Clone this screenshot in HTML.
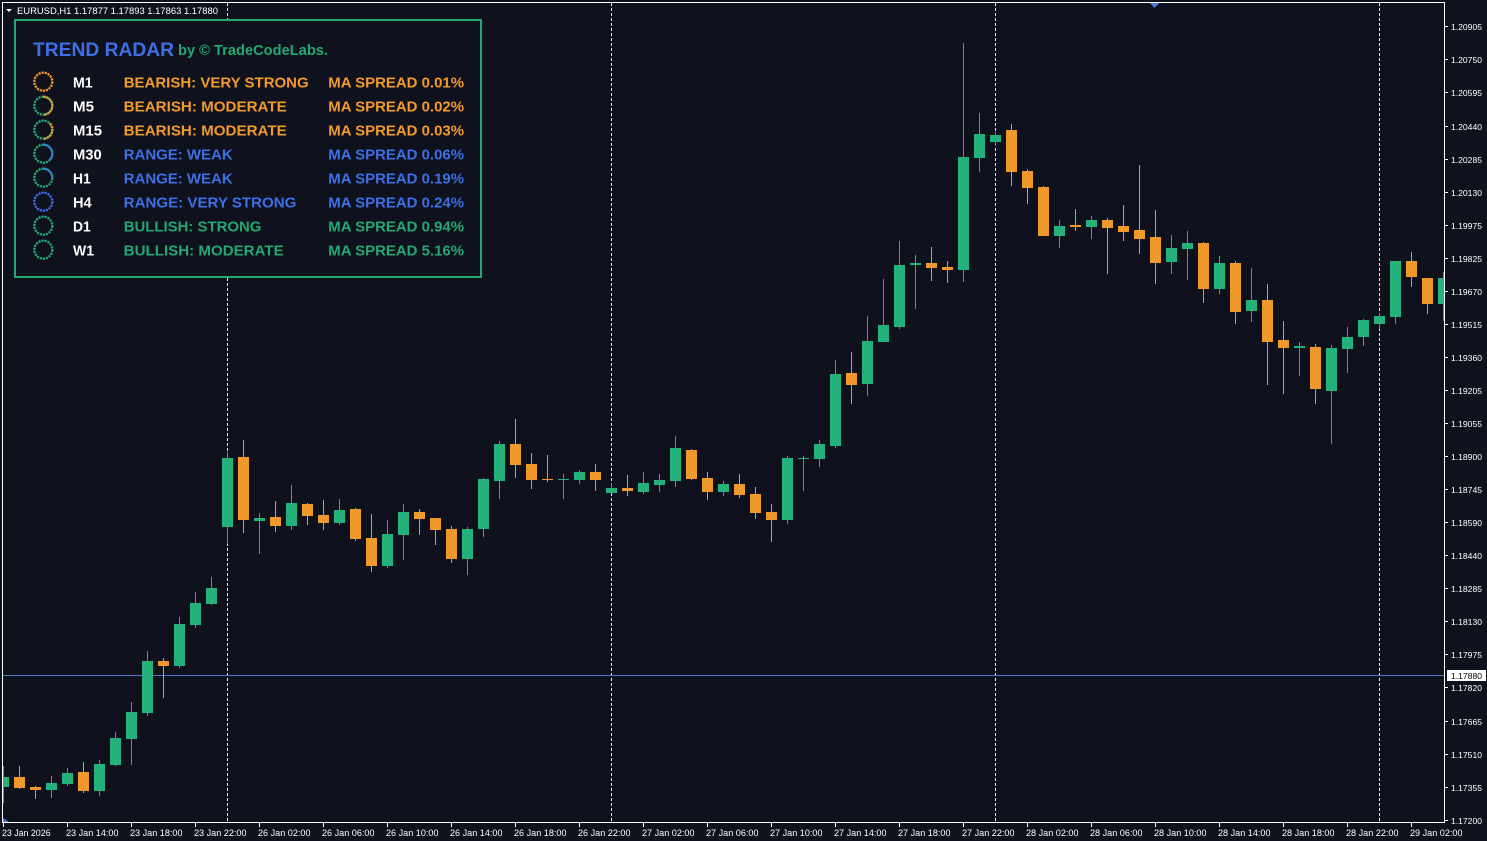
<!DOCTYPE html>
<html><head><meta charset="utf-8"><style>
html,body{margin:0;padding:0;background:#0f111c;}
svg{display:block;}
text{font-family:"Liberation Sans",sans-serif;}
</style></head><body>
<svg width="1487" height="841" viewBox="0 0 1487 841" xmlns="http://www.w3.org/2000/svg">
<defs><clipPath id="c"><rect x="3" y="3" width="1441" height="819"/></clipPath></defs>
<rect x="0" y="0" width="1487" height="841" fill="#0f111c"/>
<!-- dashed day separators -->
<g stroke="#e8e8e8" stroke-width="1" stroke-dasharray="3 2">
<line x1="227.5" y1="3" x2="227.5" y2="822"/>
<line x1="611.5" y1="3" x2="611.5" y2="822"/>
<line x1="995.5" y1="3" x2="995.5" y2="822"/>
<line x1="1379.5" y1="3" x2="1379.5" y2="822"/>
</g>
<!-- current price line -->
<line x1="3" y1="675.5" x2="1444" y2="675.5" stroke="#5a78c8" stroke-width="1"/>
<g clip-path="url(#c)">
<g fill="#23b27b">
<rect x="3" y="766" width="1" height="37"/><rect x="-2" y="777" width="11" height="10"/>
<rect x="51" y="776" width="1" height="22"/><rect x="46" y="783" width="11" height="7"/>
<rect x="67" y="768" width="1" height="18"/><rect x="62" y="773" width="11" height="11"/>
<rect x="99" y="760" width="1" height="36"/><rect x="94" y="764" width="11" height="27"/>
<rect x="115" y="732" width="1" height="34"/><rect x="110" y="738" width="11" height="27"/>
<rect x="131" y="702" width="1" height="63"/><rect x="126" y="712" width="11" height="27"/>
<rect x="147" y="651" width="1" height="65"/><rect x="142" y="661" width="11" height="52"/>
<rect x="179" y="617" width="1" height="51"/><rect x="174" y="624" width="11" height="42"/>
<rect x="195" y="592" width="1" height="36"/><rect x="190" y="603" width="11" height="22"/>
<rect x="211" y="577" width="1" height="28"/><rect x="206" y="588" width="11" height="16"/>
<rect x="227" y="452" width="1" height="92"/><rect x="222" y="458" width="11" height="69"/>
<rect x="259" y="513" width="1" height="41"/><rect x="254" y="518" width="11" height="3"/>
<rect x="291" y="485" width="1" height="45"/><rect x="286" y="503" width="11" height="23"/>
<rect x="339" y="499" width="1" height="26"/><rect x="334" y="510" width="11" height="13"/>
<rect x="387" y="520" width="1" height="48"/><rect x="382" y="534" width="11" height="32"/>
<rect x="403" y="504" width="1" height="56"/><rect x="398" y="512" width="11" height="23"/>
<rect x="467" y="527" width="1" height="48"/><rect x="462" y="529" width="11" height="30"/>
<rect x="483" y="478" width="1" height="59"/><rect x="478" y="479" width="11" height="50"/>
<rect x="499" y="441" width="1" height="58"/><rect x="494" y="444" width="11" height="37"/>
<rect x="563" y="474" width="1" height="25"/><rect x="558" y="479" width="11" height="1"/>
<rect x="579" y="470" width="1" height="14"/><rect x="574" y="472" width="11" height="8"/>
<rect x="611" y="483" width="1" height="10"/><rect x="606" y="488" width="11" height="5"/>
<rect x="643" y="472" width="1" height="22"/><rect x="638" y="483" width="11" height="9"/>
<rect x="659" y="474" width="1" height="18"/><rect x="654" y="480" width="11" height="5"/>
<rect x="675" y="436" width="1" height="51"/><rect x="670" y="448" width="11" height="33"/>
<rect x="723" y="481" width="1" height="15"/><rect x="718" y="484" width="11" height="8"/>
<rect x="787" y="456" width="1" height="68"/><rect x="782" y="458" width="11" height="62"/>
<rect x="803" y="456" width="1" height="35"/><rect x="798" y="458" width="11" height="1"/>
<rect x="819" y="440" width="1" height="27"/><rect x="814" y="444" width="11" height="15"/>
<rect x="835" y="360" width="1" height="88"/><rect x="830" y="374" width="11" height="72"/>
<rect x="867" y="316" width="1" height="80"/><rect x="862" y="341" width="11" height="43"/>
<rect x="883" y="279" width="1" height="63"/><rect x="878" y="325" width="11" height="17"/>
<rect x="899" y="241" width="1" height="88"/><rect x="894" y="265" width="11" height="62"/>
<rect x="915" y="255" width="1" height="54"/><rect x="910" y="263" width="11" height="2"/>
<rect x="963" y="43" width="1" height="239"/><rect x="958" y="157" width="11" height="113"/>
<rect x="979" y="113" width="1" height="59"/><rect x="974" y="134" width="11" height="24"/>
<rect x="995" y="132" width="1" height="14"/><rect x="990" y="135" width="11" height="7"/>
<rect x="1059" y="220" width="1" height="28"/><rect x="1054" y="226" width="11" height="10"/>
<rect x="1091" y="216" width="1" height="23"/><rect x="1086" y="220" width="11" height="7"/>
<rect x="1171" y="235" width="1" height="39"/><rect x="1166" y="248" width="11" height="14"/>
<rect x="1187" y="231" width="1" height="49"/><rect x="1182" y="243" width="11" height="6"/>
<rect x="1219" y="256" width="1" height="38"/><rect x="1214" y="263" width="11" height="26"/>
<rect x="1251" y="268" width="1" height="54"/><rect x="1246" y="300" width="11" height="11"/>
<rect x="1299" y="342" width="1" height="34"/><rect x="1294" y="346" width="11" height="2"/>
<rect x="1331" y="345" width="1" height="99"/><rect x="1326" y="348" width="11" height="43"/>
<rect x="1347" y="327" width="1" height="46"/><rect x="1342" y="337" width="11" height="12"/>
<rect x="1363" y="319" width="1" height="27"/><rect x="1358" y="320" width="11" height="17"/>
<rect x="1379" y="313" width="1" height="16"/><rect x="1374" y="316" width="11" height="8"/>
<rect x="1395" y="261" width="1" height="63"/><rect x="1390" y="261" width="11" height="56"/>
<rect x="1443" y="272" width="1" height="49"/><rect x="1438" y="278" width="11" height="26"/>
</g>
<g fill="#f0992b">
<rect x="19" y="766" width="1" height="23"/><rect x="14" y="777" width="11" height="11"/>
<rect x="35" y="786" width="1" height="13"/><rect x="30" y="787" width="11" height="3"/>
<rect x="83" y="762" width="1" height="31"/><rect x="78" y="772" width="11" height="19"/>
<rect x="163" y="658" width="1" height="40"/><rect x="158" y="661" width="11" height="5"/>
<rect x="243" y="440" width="1" height="93"/><rect x="238" y="457" width="11" height="63"/>
<rect x="275" y="501" width="1" height="31"/><rect x="270" y="517" width="11" height="9"/>
<rect x="307" y="503" width="1" height="22"/><rect x="302" y="504" width="11" height="12"/>
<rect x="323" y="500" width="1" height="30"/><rect x="318" y="515" width="11" height="8"/>
<rect x="355" y="508" width="1" height="33"/><rect x="350" y="509" width="11" height="30"/>
<rect x="371" y="514" width="1" height="58"/><rect x="366" y="538" width="11" height="28"/>
<rect x="419" y="509" width="1" height="26"/><rect x="414" y="512" width="11" height="7"/>
<rect x="435" y="518" width="1" height="27"/><rect x="430" y="518" width="11" height="12"/>
<rect x="451" y="526" width="1" height="37"/><rect x="446" y="529" width="11" height="30"/>
<rect x="515" y="419" width="1" height="59"/><rect x="510" y="444" width="11" height="21"/>
<rect x="531" y="453" width="1" height="36"/><rect x="526" y="464" width="11" height="16"/>
<rect x="547" y="455" width="1" height="27"/><rect x="542" y="479" width="11" height="1"/>
<rect x="595" y="464" width="1" height="27"/><rect x="590" y="472" width="11" height="8"/>
<rect x="627" y="475" width="1" height="21"/><rect x="622" y="488" width="11" height="3"/>
<rect x="691" y="449" width="1" height="31"/><rect x="686" y="450" width="11" height="29"/>
<rect x="707" y="472" width="1" height="28"/><rect x="702" y="478" width="11" height="14"/>
<rect x="739" y="474" width="1" height="24"/><rect x="734" y="484" width="11" height="11"/>
<rect x="755" y="487" width="1" height="32"/><rect x="750" y="494" width="11" height="19"/>
<rect x="771" y="504" width="1" height="38"/><rect x="766" y="512" width="11" height="8"/>
<rect x="851" y="352" width="1" height="52"/><rect x="846" y="373" width="11" height="12"/>
<rect x="931" y="247" width="1" height="34"/><rect x="926" y="263" width="11" height="5"/>
<rect x="947" y="261" width="1" height="22"/><rect x="942" y="267" width="11" height="3"/>
<rect x="1011" y="124" width="1" height="62"/><rect x="1006" y="130" width="11" height="42"/>
<rect x="1027" y="169" width="1" height="35"/><rect x="1022" y="171" width="11" height="17"/>
<rect x="1043" y="186" width="1" height="50"/><rect x="1038" y="187" width="11" height="49"/>
<rect x="1075" y="209" width="1" height="22"/><rect x="1070" y="225" width="11" height="2"/>
<rect x="1107" y="218" width="1" height="56"/><rect x="1102" y="220" width="11" height="8"/>
<rect x="1123" y="205" width="1" height="36"/><rect x="1118" y="226" width="11" height="6"/>
<rect x="1139" y="165" width="1" height="89"/><rect x="1134" y="230" width="11" height="9"/>
<rect x="1155" y="210" width="1" height="74"/><rect x="1150" y="237" width="11" height="26"/>
<rect x="1203" y="242" width="1" height="61"/><rect x="1198" y="243" width="11" height="46"/>
<rect x="1235" y="261" width="1" height="63"/><rect x="1230" y="263" width="11" height="49"/>
<rect x="1267" y="284" width="1" height="101"/><rect x="1262" y="300" width="11" height="42"/>
<rect x="1283" y="321" width="1" height="73"/><rect x="1278" y="340" width="11" height="8"/>
<rect x="1315" y="344" width="1" height="60"/><rect x="1310" y="347" width="11" height="42"/>
<rect x="1411" y="252" width="1" height="35"/><rect x="1406" y="261" width="11" height="16"/>
<rect x="1427" y="278" width="1" height="36"/><rect x="1422" y="278" width="11" height="26"/>
</g>
</g>
<!-- frame -->
<rect x="2.5" y="2.5" width="1442" height="820" fill="none" stroke="#ffffff" stroke-width="1"/>
<!-- markers -->
<polygon points="1150,3 1159,3 1154.5,8" fill="#4a7ae8"/>
<polygon points="3,818 3,822 9,822" fill="#4a7ae8"/>
<!-- right axis ticks & labels -->
<g stroke="#ffffff" stroke-width="1">
<line x1="1445" y1="26.5" x2="1448" y2="26.5"/><line x1="1445" y1="59.5" x2="1448" y2="59.5"/><line x1="1445" y1="92.5" x2="1448" y2="92.5"/><line x1="1445" y1="126.5" x2="1448" y2="126.5"/><line x1="1445" y1="159.5" x2="1448" y2="159.5"/><line x1="1445" y1="192.5" x2="1448" y2="192.5"/><line x1="1445" y1="225.5" x2="1448" y2="225.5"/><line x1="1445" y1="258.5" x2="1448" y2="258.5"/><line x1="1445" y1="291.5" x2="1448" y2="291.5"/><line x1="1445" y1="324.5" x2="1448" y2="324.5"/><line x1="1445" y1="357.5" x2="1448" y2="357.5"/><line x1="1445" y1="390.5" x2="1448" y2="390.5"/><line x1="1445" y1="423.5" x2="1448" y2="423.5"/><line x1="1445" y1="456.5" x2="1448" y2="456.5"/><line x1="1445" y1="489.5" x2="1448" y2="489.5"/><line x1="1445" y1="522.5" x2="1448" y2="522.5"/><line x1="1445" y1="555.5" x2="1448" y2="555.5"/><line x1="1445" y1="588.5" x2="1448" y2="588.5"/><line x1="1445" y1="621.5" x2="1448" y2="621.5"/><line x1="1445" y1="654.5" x2="1448" y2="654.5"/><line x1="1445" y1="687.5" x2="1448" y2="687.5"/><line x1="1445" y1="721.5" x2="1448" y2="721.5"/><line x1="1445" y1="754.5" x2="1448" y2="754.5"/><line x1="1445" y1="787.5" x2="1448" y2="787.5"/><line x1="1445" y1="820.5" x2="1448" y2="820.5"/>
</g>
<g fill="#ffffff" font-size="8.5">
<text x="1451" y="30" textLength="31" lengthAdjust="spacingAndGlyphs">1.20905</text>
<text x="1451" y="63" textLength="31" lengthAdjust="spacingAndGlyphs">1.20750</text>
<text x="1451" y="96" textLength="31" lengthAdjust="spacingAndGlyphs">1.20595</text>
<text x="1451" y="130" textLength="31" lengthAdjust="spacingAndGlyphs">1.20440</text>
<text x="1451" y="163" textLength="31" lengthAdjust="spacingAndGlyphs">1.20285</text>
<text x="1451" y="196" textLength="31" lengthAdjust="spacingAndGlyphs">1.20130</text>
<text x="1451" y="229" textLength="31" lengthAdjust="spacingAndGlyphs">1.19975</text>
<text x="1451" y="262" textLength="31" lengthAdjust="spacingAndGlyphs">1.19825</text>
<text x="1451" y="295" textLength="31" lengthAdjust="spacingAndGlyphs">1.19670</text>
<text x="1451" y="328" textLength="31" lengthAdjust="spacingAndGlyphs">1.19515</text>
<text x="1451" y="361" textLength="31" lengthAdjust="spacingAndGlyphs">1.19360</text>
<text x="1451" y="394" textLength="31" lengthAdjust="spacingAndGlyphs">1.19205</text>
<text x="1451" y="427" textLength="31" lengthAdjust="spacingAndGlyphs">1.19055</text>
<text x="1451" y="460" textLength="31" lengthAdjust="spacingAndGlyphs">1.18900</text>
<text x="1451" y="493" textLength="31" lengthAdjust="spacingAndGlyphs">1.18745</text>
<text x="1451" y="526" textLength="31" lengthAdjust="spacingAndGlyphs">1.18590</text>
<text x="1451" y="559" textLength="31" lengthAdjust="spacingAndGlyphs">1.18440</text>
<text x="1451" y="592" textLength="31" lengthAdjust="spacingAndGlyphs">1.18285</text>
<text x="1451" y="625" textLength="31" lengthAdjust="spacingAndGlyphs">1.18130</text>
<text x="1451" y="658" textLength="31" lengthAdjust="spacingAndGlyphs">1.17975</text>
<text x="1451" y="691" textLength="31" lengthAdjust="spacingAndGlyphs">1.17820</text>
<text x="1451" y="725" textLength="31" lengthAdjust="spacingAndGlyphs">1.17665</text>
<text x="1451" y="758" textLength="31" lengthAdjust="spacingAndGlyphs">1.17510</text>
<text x="1451" y="791" textLength="31" lengthAdjust="spacingAndGlyphs">1.17355</text>
<text x="1451" y="824" textLength="31" lengthAdjust="spacingAndGlyphs">1.17200</text>
</g>
<!-- current price label -->
<rect x="1447" y="670" width="39" height="11" fill="#ffffff"/>
<text x="1451" y="679" font-size="8.5" fill="#000000" textLength="31" lengthAdjust="spacingAndGlyphs">1.17880</text>
<!-- time axis ticks -->
<g stroke="#ffffff" stroke-width="1">
<line x1="3.5" y1="823" x2="3.5" y2="827"/><line x1="67.5" y1="823" x2="67.5" y2="827"/><line x1="131.5" y1="823" x2="131.5" y2="827"/><line x1="195.5" y1="823" x2="195.5" y2="827"/><line x1="259.5" y1="823" x2="259.5" y2="827"/><line x1="323.5" y1="823" x2="323.5" y2="827"/><line x1="387.5" y1="823" x2="387.5" y2="827"/><line x1="451.5" y1="823" x2="451.5" y2="827"/><line x1="515.5" y1="823" x2="515.5" y2="827"/><line x1="579.5" y1="823" x2="579.5" y2="827"/><line x1="643.5" y1="823" x2="643.5" y2="827"/><line x1="707.5" y1="823" x2="707.5" y2="827"/><line x1="771.5" y1="823" x2="771.5" y2="827"/><line x1="835.5" y1="823" x2="835.5" y2="827"/><line x1="899.5" y1="823" x2="899.5" y2="827"/><line x1="963.5" y1="823" x2="963.5" y2="827"/><line x1="1027.5" y1="823" x2="1027.5" y2="827"/><line x1="1091.5" y1="823" x2="1091.5" y2="827"/><line x1="1155.5" y1="823" x2="1155.5" y2="827"/><line x1="1219.5" y1="823" x2="1219.5" y2="827"/><line x1="1283.5" y1="823" x2="1283.5" y2="827"/><line x1="1347.5" y1="823" x2="1347.5" y2="827"/><line x1="1411.5" y1="823" x2="1411.5" y2="827"/>
</g>
<g fill="#ffffff" font-size="9">
<text x="2" y="836" textLength="48.5" lengthAdjust="spacingAndGlyphs">23 Jan 2026</text>
<text x="66" y="836" textLength="52.5" lengthAdjust="spacingAndGlyphs">23 Jan 14:00</text>
<text x="130" y="836" textLength="52.5" lengthAdjust="spacingAndGlyphs">23 Jan 18:00</text>
<text x="194" y="836" textLength="52.5" lengthAdjust="spacingAndGlyphs">23 Jan 22:00</text>
<text x="258" y="836" textLength="52.5" lengthAdjust="spacingAndGlyphs">26 Jan 02:00</text>
<text x="322" y="836" textLength="52.5" lengthAdjust="spacingAndGlyphs">26 Jan 06:00</text>
<text x="386" y="836" textLength="52.5" lengthAdjust="spacingAndGlyphs">26 Jan 10:00</text>
<text x="450" y="836" textLength="52.5" lengthAdjust="spacingAndGlyphs">26 Jan 14:00</text>
<text x="514" y="836" textLength="52.5" lengthAdjust="spacingAndGlyphs">26 Jan 18:00</text>
<text x="578" y="836" textLength="52.5" lengthAdjust="spacingAndGlyphs">26 Jan 22:00</text>
<text x="642" y="836" textLength="52.5" lengthAdjust="spacingAndGlyphs">27 Jan 02:00</text>
<text x="706" y="836" textLength="52.5" lengthAdjust="spacingAndGlyphs">27 Jan 06:00</text>
<text x="770" y="836" textLength="52.5" lengthAdjust="spacingAndGlyphs">27 Jan 10:00</text>
<text x="834" y="836" textLength="52.5" lengthAdjust="spacingAndGlyphs">27 Jan 14:00</text>
<text x="898" y="836" textLength="52.5" lengthAdjust="spacingAndGlyphs">27 Jan 18:00</text>
<text x="962" y="836" textLength="52.5" lengthAdjust="spacingAndGlyphs">27 Jan 22:00</text>
<text x="1026" y="836" textLength="52.5" lengthAdjust="spacingAndGlyphs">28 Jan 02:00</text>
<text x="1090" y="836" textLength="52.5" lengthAdjust="spacingAndGlyphs">28 Jan 06:00</text>
<text x="1154" y="836" textLength="52.5" lengthAdjust="spacingAndGlyphs">28 Jan 10:00</text>
<text x="1218" y="836" textLength="52.5" lengthAdjust="spacingAndGlyphs">28 Jan 14:00</text>
<text x="1282" y="836" textLength="52.5" lengthAdjust="spacingAndGlyphs">28 Jan 18:00</text>
<text x="1346" y="836" textLength="52.5" lengthAdjust="spacingAndGlyphs">28 Jan 22:00</text>
<text x="1410" y="836" textLength="52.5" lengthAdjust="spacingAndGlyphs">29 Jan 02:00</text>
</g>
<!-- top-left symbol info -->
<polygon points="6,9 12,9 9,12" fill="#ffffff"/>
<text x="17" y="14" font-size="9" fill="#ffffff" textLength="201" lengthAdjust="spacingAndGlyphs">EURUSD,H1  1.17877 1.17893 1.17863 1.17880</text>
<!-- panel -->
<rect x="15" y="20" width="466" height="257" fill="#0f111c" stroke="#22a872" stroke-width="2"/>
<text x="33" y="56" font-size="19.5" font-weight="bold" fill="#3d6fe6" textLength="141" lengthAdjust="spacingAndGlyphs">TREND RADAR</text>
<text x="178" y="55" font-size="14.5" font-weight="bold" fill="#22a872" textLength="150" lengthAdjust="spacingAndGlyphs">by © TradeCodeLabs.</text>
<g fill="none" stroke-width="2.3" stroke-dasharray="2.2 0.9">
<circle cx="43.3" cy="81.7" r="9" stroke="#f0992b"/>
<circle cx="43.3" cy="105.7" r="9" stroke="#22a872"/>
<path d="M43.3,96.7 A9,9 0 0 1 43.3,114.7" stroke="#f0992b"/>
<circle cx="43.3" cy="129.7" r="9" stroke="#22a872"/>
<path d="M49.7,123.3 A9,9 0 0 1 43.3,138.7" stroke="#f0992b"/>
<circle cx="43.3" cy="153.7" r="9" stroke="#22a872"/>
<path d="M43.3,144.7 A9,9 0 0 1 49.7,160.1" stroke="#3d6fe6"/>
<circle cx="43.3" cy="177.7" r="9" stroke="#22a872"/>
<path d="M43.3,168.7 A9,9 0 0 1 52.3,177.7" stroke="#3d6fe6"/>
<circle cx="43.3" cy="201.7" r="9" stroke="#3d6fe6"/>
<circle cx="43.3" cy="225.7" r="9" stroke="#22a872"/>
<circle cx="43.3" cy="249.7" r="9" stroke="#22a872"/>
</g>
<g font-size="15" font-weight="bold">
<g fill="#ffffff">
<text x="73" y="87.3" textLength="19.7" lengthAdjust="spacingAndGlyphs">M1</text>
<text x="73" y="111.3" textLength="21" lengthAdjust="spacingAndGlyphs">M5</text>
<text x="73" y="135.3" textLength="29" lengthAdjust="spacingAndGlyphs">M15</text>
<text x="73" y="159.3" textLength="28.7" lengthAdjust="spacingAndGlyphs">M30</text>
<text x="73" y="183.3" textLength="17.7" lengthAdjust="spacingAndGlyphs">H1</text>
<text x="73" y="207.3" textLength="18.7" lengthAdjust="spacingAndGlyphs">H4</text>
<text x="73" y="231.3" textLength="17.7" lengthAdjust="spacingAndGlyphs">D1</text>
<text x="73" y="255.3" textLength="21" lengthAdjust="spacingAndGlyphs">W1</text>
</g>
<g fill="#f39a2a">
<text x="123.7" y="87.3" textLength="185" lengthAdjust="spacingAndGlyphs">BEARISH: VERY STRONG</text>
<text x="123.7" y="111.3" textLength="163" lengthAdjust="spacingAndGlyphs">BEARISH: MODERATE</text>
<text x="123.7" y="135.3" textLength="163" lengthAdjust="spacingAndGlyphs">BEARISH: MODERATE</text>
<text x="328.3" y="87.3" textLength="135.7" lengthAdjust="spacingAndGlyphs">MA SPREAD 0.01%</text>
<text x="328.3" y="111.3" textLength="135.7" lengthAdjust="spacingAndGlyphs">MA SPREAD 0.02%</text>
<text x="328.3" y="135.3" textLength="135.7" lengthAdjust="spacingAndGlyphs">MA SPREAD 0.03%</text>
</g>
<g fill="#3d6fe6">
<text x="123.7" y="159.3" textLength="109" lengthAdjust="spacingAndGlyphs">RANGE: WEAK</text>
<text x="123.7" y="183.3" textLength="109" lengthAdjust="spacingAndGlyphs">RANGE: WEAK</text>
<text x="123.7" y="207.3" textLength="172.7" lengthAdjust="spacingAndGlyphs">RANGE: VERY STRONG</text>
<text x="328.3" y="159.3" textLength="135.7" lengthAdjust="spacingAndGlyphs">MA SPREAD 0.06%</text>
<text x="328.3" y="183.3" textLength="135.7" lengthAdjust="spacingAndGlyphs">MA SPREAD 0.19%</text>
<text x="328.3" y="207.3" textLength="135.7" lengthAdjust="spacingAndGlyphs">MA SPREAD 0.24%</text>
</g>
<g fill="#22a872">
<text x="123.7" y="231.3" textLength="137.7" lengthAdjust="spacingAndGlyphs">BULLISH: STRONG</text>
<text x="123.7" y="255.3" textLength="160" lengthAdjust="spacingAndGlyphs">BULLISH: MODERATE</text>
<text x="328.3" y="231.3" textLength="135.7" lengthAdjust="spacingAndGlyphs">MA SPREAD 0.94%</text>
<text x="328.3" y="255.3" textLength="135.7" lengthAdjust="spacingAndGlyphs">MA SPREAD 5.16%</text>
</g>
</g>
</svg>
</body></html>
